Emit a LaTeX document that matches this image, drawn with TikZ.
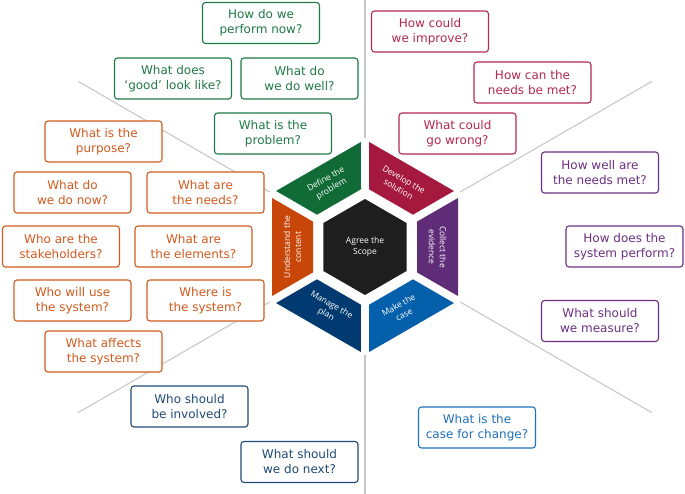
\documentclass[tikz,border=0pt]{standalone}
\usepackage{fontspec}
\setmainfont{DejaVu Sans}
\newfontfamily\hexfont{Open Sans}
\definecolor{hgreen}{RGB}{16,107,54}
\definecolor{hred}{RGB}{166,25,62}
\definecolor{hpurple}{RGB}{95,44,120}
\definecolor{hblue}{RGB}{4,96,171}
\definecolor{hnavy}{RGB}{0,58,112}
\definecolor{horange}{RGB}{200,70,8}
\definecolor{hblack}{RGB}{30,30,30}
\definecolor{qgreen}{RGB}{32,122,70}
\definecolor{qorange}{RGB}{210,90,30}
\definecolor{qred}{RGB}{180,40,80}
\definecolor{qpurple}{RGB}{108,48,130}
\definecolor{qnavy}{RGB}{31,74,122}
\definecolor{qblue}{RGB}{32,112,187}
\definecolor{spoke}{RGB}{200,200,200}
\tikzset{
  qbox/.style={draw, rounded corners=3pt, line width=1.1pt, fill=white,
    minimum width=117pt, minimum height=41pt, align=center,
    font=\fontsize{12}{15}\selectfont},
  qgreenbox/.style={qbox, draw=qgreen, text=qgreen},
  qorangebox/.style={qbox, draw=qorange, text=qorange},
  qredbox/.style={qbox, draw=qred, text=qred},
  qpurplebox/.style={qbox, draw=qpurple, text=qpurple},
  qnavybox/.style={qbox, draw=qnavy, text=qnavy},
  qbluebox/.style={qbox, draw=qblue, text=qblue},
  hexlabel/.style={text=white, align=center, font=\hexfont\fontsize{8.5}{11}\selectfont},
}
\begin{document}
\begin{tikzpicture}[x=1pt,y=1pt]
  \useasboundingbox (0,0) rectangle (685,-494);

  % spokes behind everything
  \begin{scope}[shift={(365,-247)}, spoke, line width=1.1pt]
    \draw (90:109) -- (90:247);
    \draw (-90:108) -- (-90:247);
    \draw (30:110) -- (30:331);
    \draw (150:110) -- (150:331);
    \draw (210:110) -- (210:331);
    \draw (330:110) -- (330:331);
  \end{scope}

  % centre hexagon
  \begin{scope}[shift={(365,-247)}]
    \fill [hblack] (30:48) -- (90:48) -- (150:48) -- (210:48) -- (270:48) -- (330:48) -- cycle;
    \node [hexlabel] (scope) at (0,0) {Agree the\\Scope};
  \end{scope}

  % ring segments
  \begin{scope}[shift={(365,-247)}, rotate=180]
    \fill [horange] (93,-49) -- (93,49) -- (52,25.4) -- (52,-25.4) -- cycle;
    \node [hexlabel, rotate=90] (context) at (72.5,0) {Understand the\\content};
  \end{scope}
  \begin{scope}[shift={(365,-247)}, rotate=120]
    \fill [hgreen] (93,-49) -- (93,49) -- (52,25.4) -- (52,-25.4) -- cycle;
    \node [hexlabel, rotate=30] (define) at (72.5,0) {Define the\\problem};
  \end{scope}
  \begin{scope}[shift={(365,-247)}, rotate=60]
    \fill [hred] (93,-49) -- (93,49) -- (52,25.4) -- (52,-25.4) -- cycle;
    \node [hexlabel, rotate=-30] (develop) at (72.5,0) {Develop the\\solution};
  \end{scope}
  \begin{scope}[shift={(365,-247)}, rotate=0]
    \fill [hpurple] (93,-49) -- (93,49) -- (52,25.4) -- (52,-25.4) -- cycle;
    \node [hexlabel, rotate=-90] (collect) at (72.5,0) {Collect the\\evidence};
  \end{scope}
  \begin{scope}[shift={(365,-247)}, rotate=-60]
    \fill [hblue] (93,-49) -- (93,49) -- (52,25.4) -- (52,-25.4) -- cycle;
    \node [hexlabel, rotate=30] (makecase) at (72.5,0) {Make the\\case};
  \end{scope}
  \begin{scope}[shift={(365,-247)}, rotate=-120]
    \fill [hnavy] (93,-49) -- (93,49) -- (52,25.4) -- (52,-25.4) -- cycle;
    \node [hexlabel, rotate=-30] (manage) at (72.5,0) {Manage the\\plan};
  \end{scope}

  % define the problem
  \node [qgreenbox] (gperform) at (261,-23) {How do we\\perform now?};
  \node [qgreenbox] (ggood) at (173,-78.5) {What does\\‘good’ look like?};
  \node [qgreenbox] (gwell) at (299.5,-78.5) {What do\\we do well?};
  \node [qgreenbox] (gproblem) at (273,-133.5) {What is the\\problem?};

  % understand the context
  \node [qorangebox] (opurpose) at (103.5,-141.5) {What is the\\purpose?};
  \node [qorangebox] (onow) at (72.5,-192.5) {What do\\we do now?};
  \node [qorangebox] (oneeds) at (205.5,-192.5) {What are\\the needs?};
  \node [qorangebox] (ostake) at (61,-246.5) {Who are the\\stakeholders?};
  \node [qorangebox] (oelem) at (193.5,-246.5) {What are\\the elements?};
  \node [qorangebox] (ouse) at (72.5,-300.5) {Who will use\\the system?};
  \node [qorangebox] (owhere) at (205.5,-300.5) {Where is\\the system?};
  \node [qorangebox] (oaffect) at (103.5,-351.5) {What affects\\the system?};

  % manage the plan
  \node [qnavybox] (ninvolved) at (189.5,-406.5) {Who should\\be involved?};
  \node [qnavybox] (nnext) at (299.5,-462) {What should\\we do next?};

  % develop the solution
  \node [qredbox] (rimprove) at (430,-31.5) {How could\\we improve?};
  \node [qredbox] (rmet) at (532.5,-82.5) {How can the\\needs be met?};
  \node [qredbox] (rwrong) at (457.5,-133.5) {What could\\go wrong?};

  % collect the evidence
  \node [qpurplebox] (pwell) at (600,-172.5) {How well are\\the needs met?};
  \node [qpurplebox] (pperform) at (624.5,-246.5) {How does the\\system perform?};
  \node [qpurplebox] (pmeasure) at (600,-321) {What should\\we measure?};

  % make the case
  \node [qbluebox] (bcase) at (477,-427.5) {What is the\\case for change?};
\end{tikzpicture}
\end{document}
